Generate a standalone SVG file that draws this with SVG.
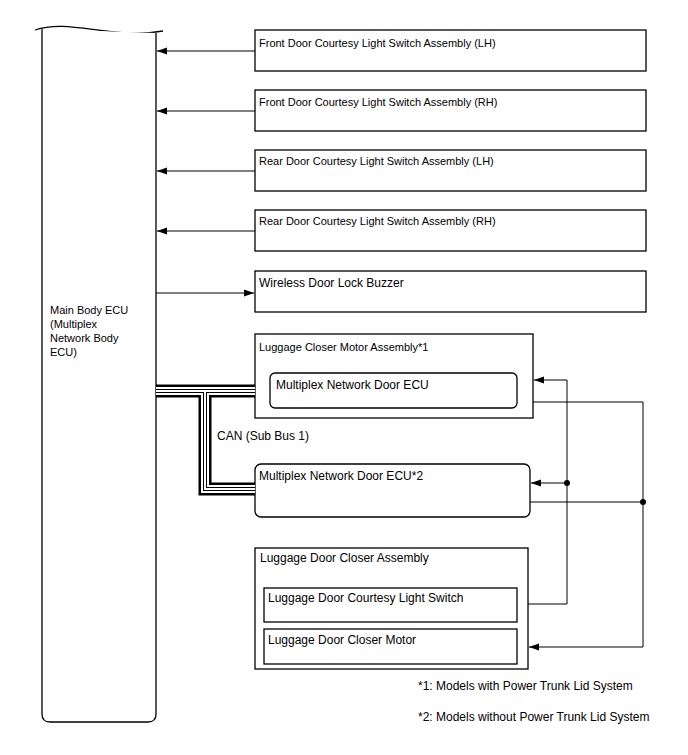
<svg xmlns="http://www.w3.org/2000/svg" width="688" height="755" viewBox="0 0 688 755">
<style>
.box{fill:#fff;stroke:#000;stroke-width:1.3}
.t{font-family:"Liberation Sans",Arial,sans-serif;font-size:11px;fill:#000}
.t2{font-family:"Liberation Sans",Arial,sans-serif;font-size:12px;fill:#000}
.w{fill:none;stroke:#000;stroke-width:1}
.dot{fill:#000}
.p1{fill:none;stroke:#000;stroke-width:13;stroke-linejoin:miter}
.p2{fill:none;stroke:#fff;stroke-width:8;stroke-linejoin:miter}
.p3{fill:none;stroke:#000;stroke-width:4;stroke-linejoin:miter}
.p4{fill:none;stroke:#fff;stroke-width:2;stroke-linejoin:miter}
</style>
<defs>
<marker id="ah" viewBox="0 0 10 10" refX="10" refY="5" markerWidth="10" markerHeight="10" markerUnits="userSpaceOnUse" orient="auto">
<path d="M0,1.5 L10,5 L0,8.5 Z" fill="#000"/>
</marker>
</defs>

<g id="main-body-ecu">
<path d="M35,30 C70,18 110,40 163,31" fill="none" stroke="#000" stroke-width="1.3"/>
<path d="M42,29 V714 Q42,722 50,722 H148 Q156,722 156,714 V33" fill="#fff" stroke="#000" stroke-width="1.3"/>
<text class="t" x="50" y="314">Main Body ECU</text>
<text class="t" x="50" y="328">(Multiplex</text>
<text class="t" x="50" y="342">Network Body</text>
<text class="t" x="50" y="356">ECU)</text>
</g>

<g id="front-lh">
<rect class="box" x="255" y="30" width="391" height="41"/>
<text class="t" x="259" y="47">Front Door Courtesy Light Switch Assembly (LH)</text>
</g>
<g id="front-rh">
<rect class="box" x="255" y="90" width="391" height="41"/>
<text class="t" x="259" y="106">Front Door Courtesy Light Switch Assembly (RH)</text>
</g>
<g id="rear-lh">
<rect class="box" x="255" y="150" width="391" height="41"/>
<text class="t" x="259" y="165">Rear Door Courtesy Light Switch Assembly (LH)</text>
</g>
<g id="rear-rh">
<rect class="box" x="255" y="210" width="391" height="41"/>
<text class="t" x="259" y="225">Rear Door Courtesy Light Switch Assembly (RH)</text>
</g>
<g id="buzzer">
<rect class="box" x="255" y="271" width="391" height="41"/>
<text class="t2" x="259" y="287">Wireless Door Lock Buzzer</text>
</g>

<g id="luggage-closer-motor">
<rect class="box" x="255" y="334" width="278" height="84"/>
<text class="t" x="259" y="351">Luggage Closer Motor Assembly*1</text>
<g id="mpx-door-ecu-1">
<rect class="box" x="270" y="373" width="247" height="35" rx="5"/>
<text class="t2" x="276" y="389">Multiplex Network Door ECU</text>
</g>
</g>

<g id="mpx-door-ecu-2">
<rect class="box" x="255" y="464" width="275" height="53" rx="6"/>
<text class="t2" x="259" y="480">Multiplex Network Door ECU*2</text>
</g>

<g id="luggage-door-closer">
<rect class="box" x="255" y="548" width="273" height="121"/>
<text class="t2" x="260" y="562">Luggage Door Closer Assembly</text>
<g id="courtesy-switch">
<rect class="box" x="264" y="588" width="253" height="34"/>
<text class="t2" x="268" y="602">Luggage Door Courtesy Light Switch</text>
</g>
<g id="closer-motor">
<rect class="box" x="264" y="629" width="253" height="35"/>
<text class="t2" x="268" y="644">Luggage Door Closer Motor</text>
</g>
</g>

<g id="connectors">
<line class="w" x1="255" y1="51" x2="157" y2="51" marker-end="url(#ah)"/>
<line class="w" x1="255" y1="111" x2="157" y2="111" marker-end="url(#ah)"/>
<line class="w" x1="255" y1="171" x2="157" y2="171" marker-end="url(#ah)"/>
<line class="w" x1="255" y1="231" x2="157" y2="231" marker-end="url(#ah)"/>
<line class="w" x1="156" y1="293" x2="254" y2="293" marker-end="url(#ah)"/>

<path class="p1" d="M156,391 H255"/>
<path class="p1" d="M205,391 V489 H255"/>
<path class="p2" d="M156,391 H255"/>
<path class="p2" d="M205,391 V489 H255"/>
<path class="p3" d="M156,391 H255"/>
<path class="p3" d="M205,391 V489 H255"/>
<path class="p4" d="M156,391 H255"/>
<path class="p4" d="M205,391 V489 H255"/>
<text class="t2" x="217" y="440">CAN (Sub Bus 1)</text>

<path class="w" d="M528,604 H567 V380 H534" marker-end="url(#ah)"/>
<line class="w" x1="567" y1="483" x2="531" y2="483" marker-end="url(#ah)"/>
<circle class="dot" cx="567" cy="483" r="3"/>
<path class="w" d="M533,402 H643 V647 H529" marker-end="url(#ah)"/>
<line class="w" x1="530" y1="502" x2="643" y2="502"/>
<circle class="dot" cx="643" cy="502" r="3"/>
</g>

<text class="t2" x="418" y="690">*1: Models with Power Trunk Lid System</text>
<text class="t2" x="418" y="721">*2: Models without Power Trunk Lid System</text>
</svg>
